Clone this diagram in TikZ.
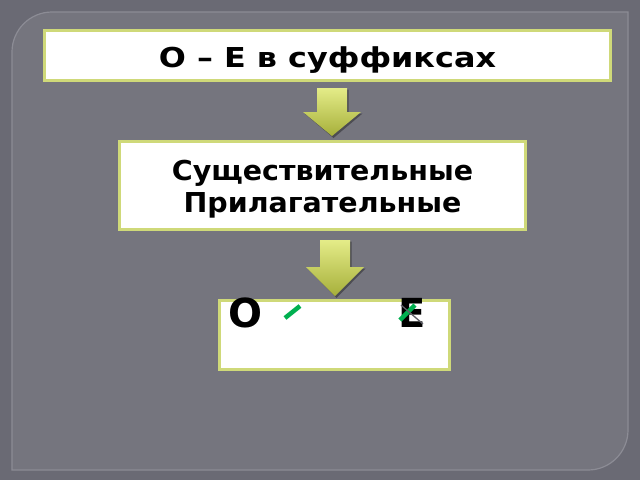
\documentclass[tikz,border=0pt]{standalone}
\usepackage{fontspec}
\setmainfont{DejaVu Sans}
\definecolor{bgout}{HTML}{6A6A74}
\definecolor{bgin}{HTML}{75757E}
\definecolor{panelline}{HTML}{8C8C95}
\definecolor{boxline}{HTML}{CFD979}
\definecolor{arrtop}{HTML}{E4EC88}
\definecolor{arrbot}{HTML}{A6AF3A}
\definecolor{tickgreen}{HTML}{00B050}
\definecolor{strike}{HTML}{5E5E66}
\tikzset{
  boxshape/.style={draw=boxline, fill=white, line width=3pt, inner sep=0pt},
  boxtext/.style={font=\bfseries\fontsize{27.4}{32}\selectfont, inner sep=0pt, anchor=base},
  bigletter/.style={font=\bfseries\fontsize{40}{44}\selectfont, inner sep=0pt, anchor=base west},
  greenmark/.style={draw=tickgreen, line width=4.5pt},
  strikeline/.style={draw=strike, line width=1.3pt},
  blockarrow/.style={top color=arrtop, bottom color=arrbot, draw=none},
  arrowshadow/.style={fill=black, fill opacity=0.35, draw=none}
}
\newcommand{\blockarr}[4]{% cx, top, head start, tip
  \fill[arrowshadow] ({#1-15+1.5},{#2+1.5}) -- ({#1+15+1.5},{#2+1.5}) -- ({#1+15+1.5},{#3+1.5}) -- ({#1+29+1.5},{#3+1.5}) -- ({#1+1.5},{#4+2}) -- ({#1-29+1.5},{#3+1.5}) -- ({#1-15+1.5},{#3+1.5}) -- cycle;
  \path[blockarrow] ({#1-15},#2) -- ({#1+15},#2) -- ({#1+15},#3) -- ({#1+29},#3) -- (#1,#4) -- ({#1-29},#3) -- ({#1-15},#3) -- cycle;
}
\begin{document}
\begin{tikzpicture}[x=1pt,y=-1pt]
\fill[bgout] (0,0) rectangle (640,480);
\useasboundingbox (0,0) rectangle (640,480);
\path[fill=bgin, draw=panelline, line width=1.2pt] (12,470) -- (12,52) arc[start angle=180, end angle=270, radius=40] -- (628,12) -- (628,430) arc[start angle=0, end angle=90, radius=40] -- cycle;

% boxes
\node[boxshape, minimum width=566pt, minimum height=50pt] (title) at (327.5,55.5) {};
\node[boxshape, minimum width=406pt, minimum height=88pt] (kinds) at (322.5,185) {};
\node[boxshape, minimum width=230pt, minimum height=69pt] (vowels) at (334.5,334.5) {};

% arrows
\blockarr{332}{88}{112}{136}
\blockarr{335}{240}{267}{296}

% texts
\node[boxtext] (t1) at (327.5,67) {\scalebox{1.163}[1]{О – Е в суффиксах}};
\node[boxtext] (t2) at (322.5,180) {\scalebox{1.04}[1]{Существительные}};
\node[boxtext] (t3) at (322.5,212) {\scalebox{1.04}[1]{Прилагательные}};
\node[bigletter] (o) at (228.5,327) {О};
\node[bigletter] (e) at (398.5,327) {Е};

% marks
\draw[greenmark] (285,318) -- (300,306);
\draw[greenmark] (400,320) -- (415,305);
\draw[strikeline] (401,305) -- (423,324);
\end{tikzpicture}
\end{document}
